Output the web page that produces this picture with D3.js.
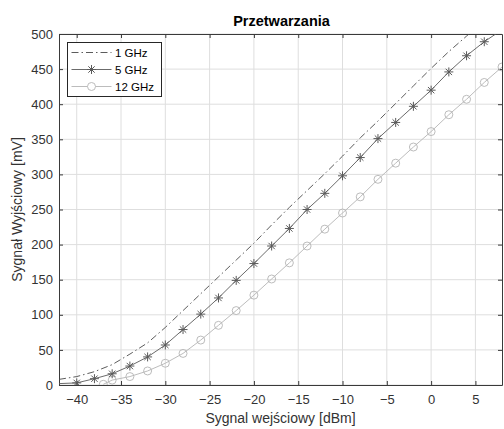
<!DOCTYPE html>
<html>
<head>
<meta charset="utf-8">
<script src="https://cdn.jsdelivr.net/npm/d3@7"></script>
<style>
  html, body { margin: 0; padding: 0; background: #fff; }
  svg { display: block; font-family: "Liberation Sans", Arial, sans-serif; }
</style>
</head>
<body>
<svg id="chart" width="504" height="429"></svg>
<script>
// Input power [dBm] and output signal [mV] for three frequencies
const inputDbm1 = [-42, -40, -38, -36, -34, -32, -30, -28, -26, -24, -22, -20, -18, -16, -14, -12, -10, -8, -6, -4, -2, 0, 2, 4, 6];
const out1GHz   = [8, 12, 19, 29, 44, 60, 82, 106, 130, 154, 178, 202, 228, 253, 277, 301, 326, 352, 376, 401, 426, 451, 475, 497, 520];

const inputDbm5 = [-42, -40, -38, -36, -34, -32, -30, -28, -26, -24, -22, -20, -18, -16, -14, -12, -10, -8, -6, -4, -2, 0, 2, 4, 6, 8];
const out5GHz   = [2, 3, 9, 16, 27, 40, 57, 79, 101, 124, 149, 173, 198, 223, 250, 273, 298, 324, 351, 374, 397, 420, 446, 469, 489, 506];

const inputDbm12 = [-37, -36, -34, -32, -30, -28, -26, -24, -22, -20, -18, -16, -14, -12, -10, -8, -6, -4, -2, 0, 2, 4, 6, 8];
const out12GHz   = [1, 7, 12, 20, 31, 45, 64, 85, 106, 128, 151, 174, 198, 222, 245, 268, 293, 316, 339, 361, 385, 407, 431, 453];

const xTicks = [-40, -35, -30, -25, -20, -15, -10, -5, 0, 5];
const yTicks = [0, 50, 100, 150, 200, 250, 300, 350, 400, 450, 500];
const seriesNames = ["1 GHz", "5 GHz", "12 GHz"];

const chartTitle = "Przetwarzania";
const xTitle = "Sygnal wejściowy [dBm]";
const yTitle = "Sygnał Wyjściowy [mV]";

const svg = d3.select("#chart");
const m = { left: 59, right: 2, top: 34, bottom: 44 };
const W = 504, H = 429;
const pw = W - m.left - m.right, ph = H - m.top - m.bottom;

const x = d3.scaleLinear().domain([-42, 8]).range([m.left, m.left + pw]);
const y = d3.scaleLinear().domain([0, 500]).range([m.top + ph, m.top]);

const axisColor = "#3a3a3a";
const textColor = "#333";

svg.append("defs").append("clipPath").attr("id", "plotClip")
  .append("rect").attr("x", m.left).attr("y", m.top).attr("width", pw).attr("height", ph);

// grid
const grid = svg.append("g");
grid.selectAll("line.gx").data(xTicks).join("line")
  .attr("x1", d => x(d)).attr("x2", d => x(d))
  .attr("y1", m.top).attr("y2", m.top + ph)
  .attr("stroke", "#dedede").attr("stroke-width", 1);
grid.selectAll("line.gy").data(yTicks).join("line")
  .attr("y1", d => y(d)).attr("y2", d => y(d))
  .attr("x1", m.left).attr("x2", m.left + pw)
  .attr("stroke", "#dedede").attr("stroke-width", 1);

// axes with inward ticks on all four sides
const tickLen = 4;
const bottomAxis = svg.append("g").attr("transform", `translate(0,${m.top + ph})`)
  .call(d3.axisBottom(x).tickValues(xTicks).tickSizeInner(-tickLen).tickSizeOuter(0).tickPadding(10));
const topAxis = svg.append("g").attr("transform", `translate(0,${m.top})`)
  .call(d3.axisTop(x).tickValues(xTicks).tickSizeInner(-tickLen).tickSizeOuter(0).tickFormat(""));
const leftAxis = svg.append("g").attr("transform", `translate(${m.left},0)`)
  .call(d3.axisLeft(y).tickValues(yTicks).tickSizeInner(-tickLen).tickSizeOuter(0).tickPadding(6));
const rightAxis = svg.append("g").attr("transform", `translate(${m.left + pw},0)`)
  .call(d3.axisRight(y).tickValues(yTicks).tickSizeInner(-tickLen).tickSizeOuter(0).tickFormat(""));

[bottomAxis, topAxis, leftAxis, rightAxis].forEach(g => {
  g.select(".domain").attr("stroke", axisColor).attr("stroke-width", 1);
  g.selectAll(".tick line").attr("stroke", axisColor);
  g.selectAll(".tick text").attr("fill", textColor).attr("font-size", 13)
    .attr("font-family", "Liberation Sans, Arial, sans-serif");
});
bottomAxis.selectAll(".tick text").attr("dy", "0.71em");

// series
const plot = svg.append("g").attr("clip-path", "url(#plotClip)");
const line = d3.line().x(d => x(d[0])).y(d => y(d[1]));

const s1 = inputDbm1.map((v, i) => [v, out1GHz[i]]);
const s5 = inputDbm5.map((v, i) => [v, out5GHz[i]]);
const s12 = inputDbm12.map((v, i) => [v, out12GHz[i]]);

const c1 = "#4a4a4a", c5 = "#5a5a5a", c12 = "#b4b4b4";

plot.append("path").datum(s1).attr("d", line)
  .attr("fill", "none").attr("stroke", c1).attr("stroke-width", 0.9)
  .attr("stroke-dasharray", "7,3,1.5,3");

plot.append("path").datum(s12).attr("d", line)
  .attr("fill", "none").attr("stroke", c12).attr("stroke-width", 0.9);

plot.append("path").datum(s5).attr("d", line)
  .attr("fill", "none").attr("stroke", c5).attr("stroke-width", 0.9);

// circle markers (12 GHz)
plot.selectAll("circle.m12").data(s12.filter(d => d[0] > -42 && d[0] <= 8)).join("circle")
  .attr("cx", d => x(d[0])).attr("cy", d => y(d[1])).attr("r", 4)
  .attr("fill", "none").attr("stroke", c12).attr("stroke-width", 0.9);

// star markers (5 GHz)
function star(g, cx, cy, r, color) {
  const a = r * Math.SQRT1_2;
  const p = `M${cx - r},${cy}L${cx + r},${cy}M${cx},${cy - r}L${cx},${cy + r}` +
            `M${cx - a},${cy - a}L${cx + a},${cy + a}M${cx - a},${cy + a}L${cx + a},${cy - a}`;
  g.append("path").attr("d", p).attr("stroke", color).attr("stroke-width", 1).attr("fill", "none");
}
const starG = plot.append("g");
s5.filter(d => d[0] > -42 && d[0] < 8).forEach(d => star(starG, x(d[0]), y(d[1]), 4.5, c5));

// titles
svg.append("text").attr("x", m.left + pw / 2 + 1).attr("y", 26)
  .attr("text-anchor", "middle").attr("font-size", 14.5).attr("font-weight", "bold")
  .attr("fill", "#000").text(chartTitle);
svg.append("text").attr("x", m.left + pw / 2).attr("y", 423)
  .attr("text-anchor", "middle").attr("font-size", 14).attr("fill", textColor).text(xTitle);
svg.append("text").attr("transform", `translate(22,${m.top + ph / 2}) rotate(-90)`)
  .attr("text-anchor", "middle").attr("font-size", 14).attr("fill", textColor).text(yTitle);

// legend
const lg = svg.append("g");
const lx = 67.5, ly = 42.5, lw = 94, lh = 54;
lg.append("rect").attr("x", lx).attr("y", ly).attr("width", lw).attr("height", lh)
  .attr("fill", "#fff").attr("stroke", "#262626").attr("stroke-width", 1);
const rowsY = [52.5, 69.5, 86.5];
const styles = [
  { color: c1, dash: "7,3,1.5,3", marker: null },
  { color: c5, dash: null, marker: "star" },
  { color: c12, dash: null, marker: "circle" }
];
seriesNames.forEach((name, i) => {
  const yy = rowsY[i];
  const st = styles[i];
  const ln = lg.append("line").attr("x1", 71.5).attr("x2", 111.5).attr("y1", yy).attr("y2", yy)
    .attr("stroke", st.color).attr("stroke-width", 0.9);
  if (st.dash) ln.attr("stroke-dasharray", st.dash);
  if (st.marker === "star") star(lg, 91.5, yy, 4.5, st.color);
  if (st.marker === "circle") lg.append("circle").attr("cx", 91.5).attr("cy", yy).attr("r", 4)
    .attr("fill", "#fff").attr("stroke", st.color).attr("stroke-width", 0.9);
  lg.append("text").attr("x", 115).attr("y", yy).attr("dy", "0.35em")
    .attr("font-size", 11.5).attr("fill", "#000").text(name);
});
</script>
</body>
</html>
